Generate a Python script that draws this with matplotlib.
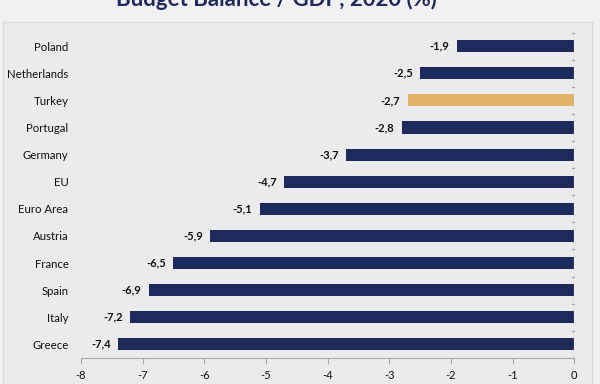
import matplotlib.pyplot as plt
from matplotlib.patches import Rectangle

plt.rcParams["font.family"] = ["Lato", "DejaVu Sans"]

countries = ["Poland", "Netherlands", "Turkey", "Portugal", "Germany", "EU",
             "Euro Area", "Austria", "France", "Spain", "Italy", "Greece"]
values = [-1.9, -2.5, -2.7, -2.8, -3.7, -4.7, -5.1, -5.9, -6.5, -6.9, -7.2, -7.4]
highlight = "Turkey"
xticks = [-8, -7, -6, -5, -4, -3, -2, -1, 0]
title = "Budget Balance / GDP, 2020 (%)"

NAVY = "#1d2a5b"
GOLD = "#e1b469"

fig = plt.figure(figsize=(6, 3.84), dpi=100, facecolor="#f1f1f3")
# slide panel behind the chart
fig.patches.append(Rectangle((0.005, -0.01), 0.982, 0.952, transform=fig.transFigure,
                             facecolor="#ebeaec", edgecolor="#dcdcdf", linewidth=1.0,
                             zorder=-5))
# slide title, mostly cropped off at the top edge as in the screenshot
fig.text(0.46, 1 - 6 / 384, title, ha="center", va="baseline",
         fontsize=16, fontweight="bold", color=NAVY)

ax = fig.add_axes([0.135, 0.068, 0.822, 0.847])
ax.set_facecolor("none")

pos = list(range(len(countries)))
colors = [GOLD if c == highlight else NAVY for c in countries]
ax.barh(pos, values, height=0.45, color=colors, zorder=2)

for p, v in zip(pos, values):
    ax.text(v - 0.12, p, f"{v:.1f}".replace(".", ","), ha="right", va="center",
            fontsize=8, fontweight="bold", color="#111111")

ax.set_ylim(len(countries) - 0.5, -0.5)
ax.set_xlim(-8, 0)
ax.set_xticks(xticks)
ax.set_xticklabels([str(t) for t in xticks], fontsize=8, color="#111111")
ax.set_yticks(pos)
ax.set_yticklabels(countries, fontsize=8.2, color="#111111")
ax.tick_params(axis="y", length=0, pad=9)
ax.tick_params(axis="x", length=4, color="#a8a8ac", pad=5)

# vertical axis line at zero with small category ticks
ax.axvline(0, color="#a8a8ac", linewidth=0.9, zorder=3)
for b in [i - 0.5 for i in range(len(countries) + 1)]:
    ax.plot([-0.04, 0], [b, b], color="#a8a8ac", linewidth=0.9, clip_on=False, zorder=3)

for side in ["top", "right", "left"]:
    ax.spines[side].set_visible(False)
ax.spines["bottom"].set_color("#a8a8ac")

fig.savefig("out.png", dpi=100, facecolor=fig.get_facecolor())
